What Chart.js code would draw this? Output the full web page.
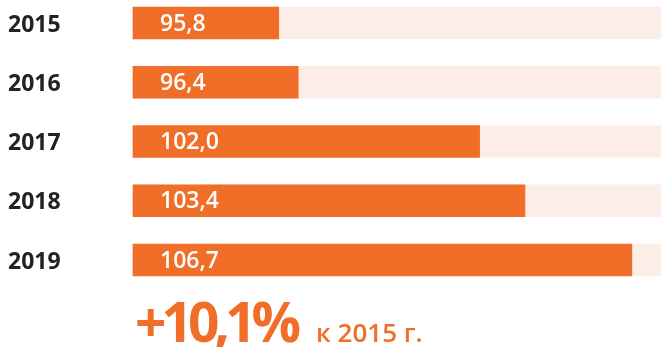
<!DOCTYPE html>
<html>
<head>
<meta charset="utf-8">
<script src="https://cdn.jsdelivr.net/npm/chart.js@4.4.1/dist/chart.umd.min.js"></script>
<style>
  html, body { margin: 0; padding: 0; background: #ffffff; }
  #wrap { width: 661px; height: 347px; position: relative; }
</style>
</head>
<body>
<div id="wrap"><canvas id="chart" width="661" height="347"></canvas></div>
<script>
// Index values by year (2015 = base)
const years = ['2015', '2016', '2017', '2018', '2019'];
const indexValues = [95.8, 96.4, 102.0, 103.4, 106.7];
const valueLabels = ['95,8', '96,4', '102,0', '103,4', '106,7'];
const growthLabel = '+10,1%';
const growthNote = 'к 2015 г.';

// Value axis range
const axisMin = 91.3;
const axisMax = 107.6;

const ORANGE = '#F06E28';
const TRACK = '#FCEEE6';
const FONT = "'Open Sans', sans-serif";

// Writes each bar's value inside the bar, near its base, plus the summary line below
const labelPlugin = {
  id: 'barLabels',
  afterDatasetsDraw(chart) {
    const ctx = chart.ctx;
    const meta = chart.getDatasetMeta(1);
    ctx.save();
    ctx.fillStyle = '#ffffff';
    ctx.font = `600 23px ${FONT}`;
    ctx.textAlign = 'left';
    ctx.textBaseline = 'middle';
    meta.data.forEach((bar, i) => {
      ctx.fillText(valueLabels[i], bar.base + 27, bar.y + 1);
    });

    const left = chart.chartArea.left + 2;
    ctx.fillStyle = ORANGE;
    ctx.textBaseline = 'alphabetic';
    ctx.font = `700 55px ${FONT}`;
    ctx.letterSpacing = '-5px';
    ctx.fillText(growthLabel, left, 342);
    const w = ctx.measureText(growthLabel).width;
    ctx.letterSpacing = '0px';
    ctx.font = `600 26px ${FONT}`;
    ctx.fillText(growthNote, left + w + 20, 342);
    ctx.restore();
  }
};

new Chart(document.getElementById('chart'), {
  type: 'bar',
  data: {
    labels: years,
    datasets: [
      {
        label: 'track',
        data: years.map(() => axisMax),
        base: axisMin,
        backgroundColor: TRACK,
        grouped: false,
        order: 2,
        barThickness: 32,
        clip: false
      },
      {
        label: 'index',
        data: indexValues,
        base: axisMin,
        backgroundColor: ORANGE,
        grouped: false,
        order: 1,
        barThickness: 32,
        clip: false
      }
    ]
  },
  options: {
    indexAxis: 'y',
    responsive: false,
    animation: false,
    layout: { padding: { left: 8, right: 0, top: 23, bottom: 87 } },
    plugins: {
      legend: { display: false },
      tooltip: { enabled: false },
      title: { display: false }
    },
    scales: {
      x: {
        display: false,
        min: axisMin,
        max: axisMax
      },
      y: {
        offset: false,
        grid: { display: false, drawTicks: false },
        border: { display: false },
        afterFit(scale) { scale.width = 125; },
        ticks: {
          crossAlign: 'far',
          padding: 0,
          labelOffset: 2,
          color: '#222222',
          font: { family: FONT, size: 23, weight: '700' }
        }
      }
    }
  },
  plugins: [labelPlugin]
});
</script>
</body>
</html>
